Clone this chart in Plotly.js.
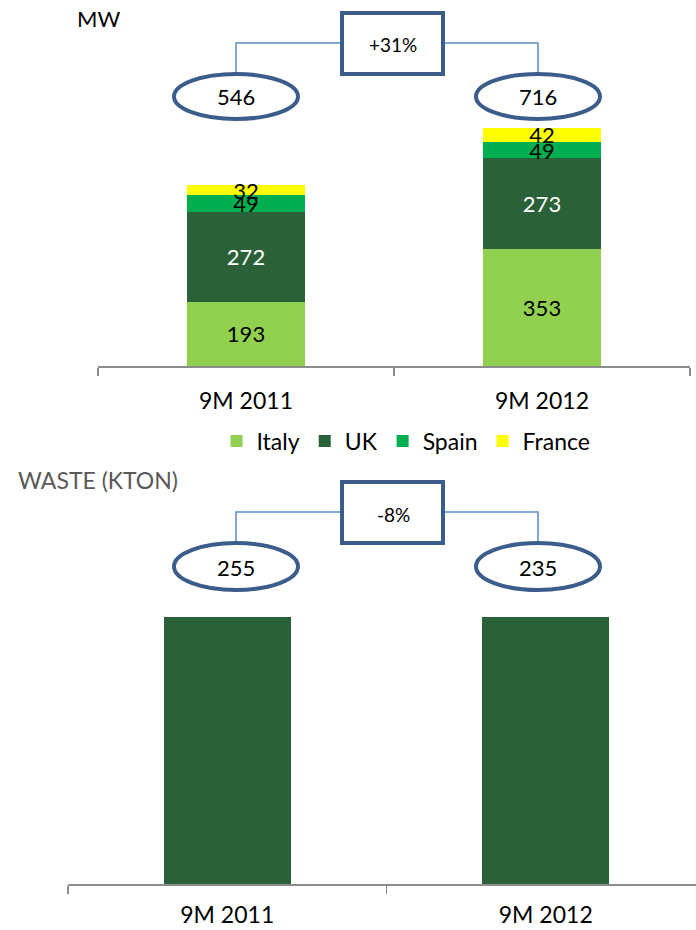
<!DOCTYPE html>
<html>
<head>
<meta charset="utf-8">
<script src="https://cdn.plot.ly/plotly-3.0.1.min.js"></script>
<style>html,body{margin:0;padding:0;background:#fff;}#chart{width:696px;height:930px;}</style>
</head>
<body>
<div id="chart"></div>
<script>
// ---- data ----
var periods = ["9M 2011", "9M 2012"];
var italyMW = [193, 353];
var ukMW = [272, 273];
var spainMW = [49, 49];
var franceMW = [32, 42];
var totalMW = [546, 716];
var mwChange = "+31%";

var wasteBars = [255, 255];      // bar heights as drawn (equal in the picture)
var wasteTotals = [255, 235];    // values shown in the ovals
var wasteChange = "-8%";

// ---- helpers (pixel -> paper) ----
var W = 696, H = 930;
function px(x){ return x / W; }
function py(y){ return 1 - y / H; }

var FONT = "Lato, 'Open Sans', sans-serif";
var dark = "#3A5D8C", light = "#5B8CC8";

var traces = [
  {type:"bar", name:"Italy", x:periods, y:italyMW, marker:{color:"#92D050"}, text:italyMW.map(String),
   textfont:{color:"#000", size:22, family:FONT}},
  {type:"bar", name:"UK", x:periods, y:ukMW, marker:{color:"#2B6138"}, text:ukMW.map(String),
   textfont:{color:"#fff", size:22, family:FONT}},
  {type:"bar", name:"Spain", x:periods, y:spainMW, marker:{color:"#00B050"}, text:spainMW.map(String),
   textfont:{color:"#000", size:22, family:FONT}},
  {type:"bar", name:"France", x:periods, y:franceMW, marker:{color:"#FFFF00"}, text:franceMW.map(String),
   textfont:{color:"#000", size:22, family:FONT}},
  {type:"bar", name:"Waste", x:periods, y:wasteBars, xaxis:"x2", yaxis:"y2", marker:{color:"#2B6138"},
   showlegend:false}
];
traces.forEach(function(t){
  t.textposition = "inside"; t.insidetextanchor = "middle"; t.constraintext = "none";
  t.textangle = 0; t.hoverinfo = "skip";
});

function oval(x0,x1,y0,y1){
  return {type:"circle", xref:"paper", yref:"paper", x0:px(x0), x1:px(x1), y0:py(y1), y1:py(y0),
    line:{color:dark, width:4}, fillcolor:"rgba(255,255,255,0)"};
}
function rect(x0,x1,y0,y1){
  return {type:"rect", xref:"paper", yref:"paper", x0:px(x0), x1:px(x1), y0:py(y1), y1:py(y0),
    line:{color:dark, width:4}, fillcolor:"rgba(255,255,255,0)"};
}
function path(pts){
  var d = pts.map(function(p,i){ return (i?"L":"M") + px(p[0]) + "," + py(p[1]); }).join(" ");
  return {type:"path", xref:"paper", yref:"paper", path:d, line:{color:light, width:1.5}};
}

var shapes = [
  path([[236,73],[236,43],[342,43]]),
  path([[444,43],[538,43],[538,73]]),
  rect(342,443,13,74),
  oval(174,298,74,119),
  oval(476,600,74,119),

  path([[236,543],[236,512],[342,512]]),
  path([[444,512],[538,512],[538,543]]),
  rect(342,443,482,543),
  oval(174,298,543,590),
  oval(476,600,543,590)
];

function ann(text,x,y,size,color,anchor){
  return {text:text, xref:"paper", yref:"paper", x:px(x), y:py(y), xanchor:anchor||"center", yanchor:"middle",
    showarrow:false, font:{family:FONT, size:size, color:color||"#000"}};
}
var annotations = [
  ann("MW", 75, 19, 22, "#000", "left"),
  ann(mwChange, 393, 44, 19),
  ann(String(totalMW[0]), 236, 97, 22),
  ann(String(totalMW[1]), 538, 97, 22),
  ann("WASTE (KTON)", 16, 480, 23, "#595959", "left"),
  ann(wasteChange, 393, 514, 19),
  ann(String(wasteTotals[0]), 236, 567, 22),
  ann(String(wasteTotals[1]), 538, 567, 22)
];

var axisCommon = {type:"category", showline:true, linecolor:"#8C8C8C", linewidth:1.5, ticks:"outside",
  tickson:"boundaries", ticklen:8, tickcolor:"#8C8C8C", tickwidth:1.5, showgrid:false, zeroline:false,
  tickfont:{family:FONT, size:23, color:"#000"}, ticklabelstandoff:14, fixedrange:true};

var layout = {
  width:W, height:H, margin:{l:0,r:0,t:0,b:0}, paper_bgcolor:"#fff", plot_bgcolor:"rgba(0,0,0,0)",
  barmode:"stack", bargap:0.6, showlegend:true, hovermode:false,
  font:{family:FONT},
  xaxis: Object.assign({}, axisCommon, {domain:[px(98), px(690)], range:[-0.5,1.5], anchor:"y"}),
  yaxis: {domain:[py(366), 1], range:[0, 366/0.332], visible:false, fixedrange:true, anchor:"x"},
  xaxis2: Object.assign({}, axisCommon, {domain:[px(68), 1], range:[-0.5, -0.5 + 628/318.5], anchor:"y2",
    ticklabelstandoff:10}),
  yaxis2: {domain:[py(884), py(460)], range:[0, 255*424/267], visible:false, fixedrange:true, anchor:"x2"},
  legend:{orientation:"h", x:px(406), xanchor:"center", y:py(441), yanchor:"middle",
    font:{family:FONT, size:23, color:"#000"}, bgcolor:"rgba(0,0,0,0)", traceorder:"normal", itemwidth:30},
  shapes:shapes, annotations:annotations
};

Plotly.newPlot("chart", traces, layout, {staticPlot:true, displayModeBar:false});
</script>
</body>
</html>
